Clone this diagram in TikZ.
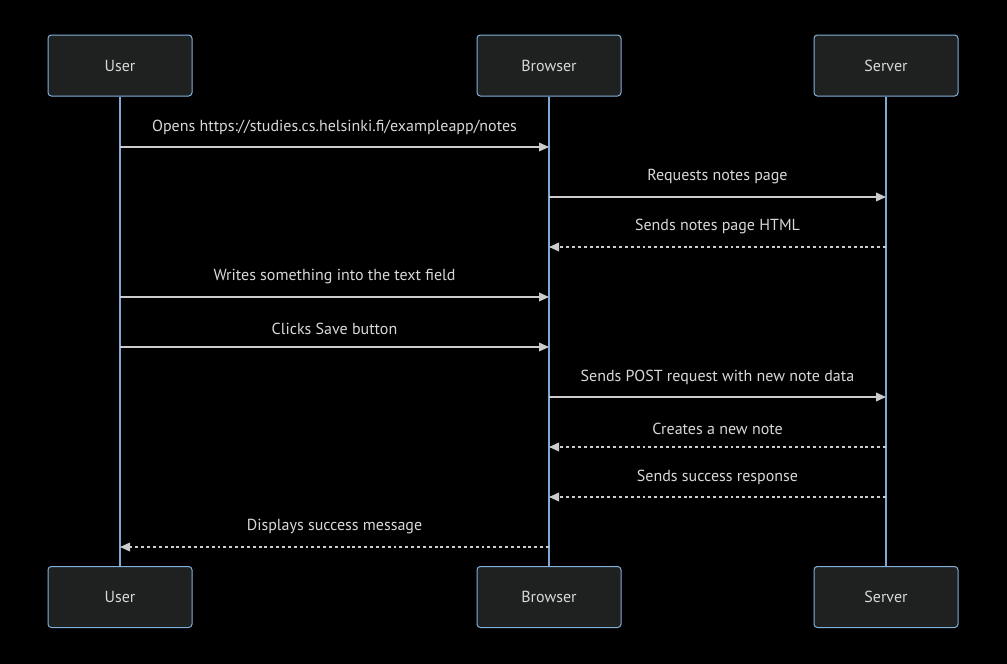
\documentclass[tikz,border=0pt]{standalone}
\usepackage{fontspec}
\setmainfont{PT Sans}
\usetikzlibrary{arrows.meta}
\definecolor{boxfill}{HTML}{1F2020}
\definecolor{boxline}{HTML}{81B1DB}
\definecolor{lifeline}{HTML}{7FA8D6}
\definecolor{msgline}{HTML}{CCCCCC}
\definecolor{txt}{HTML}{D8D8D8}
\begin{document}
\begin{tikzpicture}[x=0.75pt,y=-0.75pt,
  actor/.style={draw=boxline,fill=boxfill,rounded corners=2.5pt,line width=0.75pt,
    minimum width=108pt,minimum height=45.75pt,inner sep=0pt,text=txt,font=\fontsize{12}{14}\selectfont},
  life/.style={draw=lifeline,line width=1.1pt},
  msg/.style={draw=msgline,line width=1.1pt,-{Triangle[length=7.5pt,width=6.5pt]}},
  reply/.style={msg,dash pattern=on 2.2pt off 2.2pt},
  lbl/.style={text=txt,font=\fontsize{12}{14}\selectfont,inner sep=0pt,above=9pt}]
\fill[black] (0,0) rectangle (1007,664);
\useasboundingbox (0,0) rectangle (1007,664);

% participants, top and bottom
\node[actor] (ut) at (120,65.5) {User};
\node[actor] (bt) at (549,65.5) {Browser};
\node[actor] (st) at (886,65.5) {Server};
\node[actor] (ub) at (120,597) {User};
\node[actor] (bb) at (549,597) {Browser};
\node[actor] (sb) at (886,597) {Server};

% lifelines
\draw[life] (ut) -- (ub);
\draw[life] (bt) -- (bb);
\draw[life] (st) -- (sb);

% message anchors on each lifeline
\foreach \i/\y in {1/147,2/197,3/247,4/297,5/347,6/397,7/447,8/497,9/547}{
  \coordinate (u\i) at (120,\y);
  \coordinate (b\i) at (549,\y);
  \coordinate (s\i) at (886,\y);
}

\draw[msg] (u1) -- node[lbl] {Opens https://studies.cs.helsinki.fi/exampleapp/notes} (b1);
\draw[msg] (b2) -- node[lbl] {Requests notes page} (s2);
\draw[reply] (s3) -- node[lbl] {Sends notes page HTML} (b3);
\draw[msg] (u4) -- node[lbl] {Writes something into the text field} (b4);
\draw[msg] (u5) -- node[lbl] {Clicks Save button} (b5);
\draw[msg] (b6) -- node[lbl] {Sends POST request with new note data} (s6);
\draw[reply] (s7) -- node[lbl] {Creates a new note} (b7);
\draw[reply] (s8) -- node[lbl] {Sends success response} (b8);
\draw[reply] (b9) -- node[lbl] {Displays success message} (u9);
\end{tikzpicture}
\end{document}
